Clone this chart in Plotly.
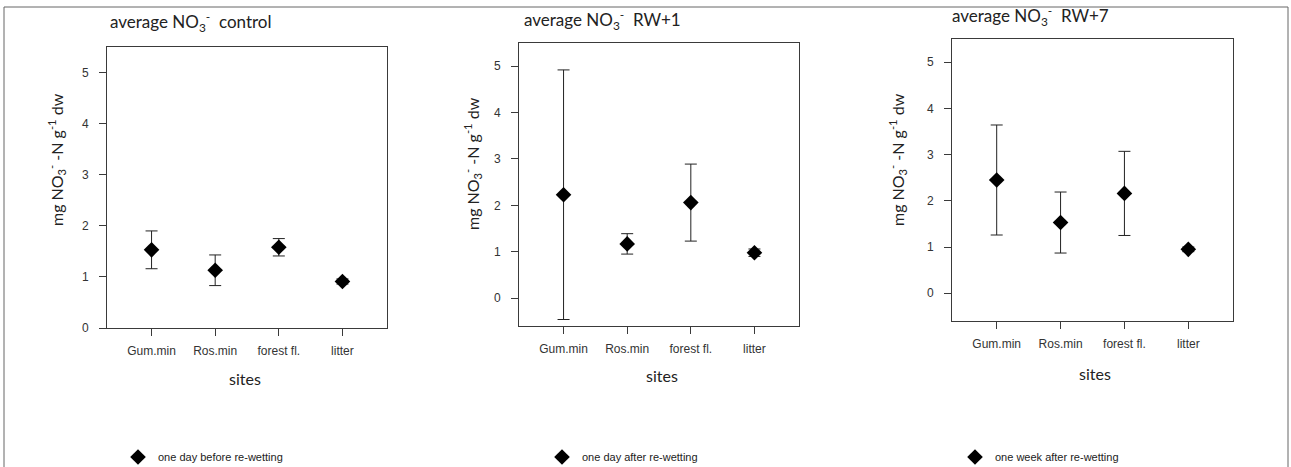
import plotly.graph_objects as go

W, H = 1291, 467

sites = ["Gum.min", "Ros.min", "forest fl.", "litter"]
panel_titles = ["average NO<sub>3</sub><sup>-</sup>  control",
                "average NO<sub>3</sub><sup>-</sup>  RW+1",
                "average NO<sub>3</sub><sup>-</sup>  RW+7"]
legend_names = ["one day before re-wetting", "one day after re-wetting", "one week after re-wetting"]

control_mean = [1.53, 1.13, 1.58, 0.91]
control_err = [0.37, 0.30, 0.17, 0.05]
rw1_mean = [2.23, 1.17, 2.06, 0.98]
rw1_err = [2.69, 0.22, 0.83, 0.08]
rw7_mean = [2.45, 1.53, 2.16, 0.95]
rw7_err = [1.19, 0.66, 0.91, 0.05]

y_ticks = [0, 1, 2, 3, 4, 5]

means = [control_mean, rw1_mean, rw7_mean]
errs = [control_err, rw1_err, rw7_err]


def px(x):
    return x / W


def py(y):
    return 1 - y / H


# layout geometry in pixels: (left, right, top, bottom)
boxes = [(107, 387, 47, 328), (519, 799, 43, 326), (952, 1233, 39, 321)]
y_ranges = [[0, 5.5], [-0.6, 5.5], [-0.6, 5.5]]
x_range = [-0.7, 3.7]
title_pos = [(108, 22), (522, 20), (950, 16)]
ytitle_pos = [(57, 160), (472, 164), (898, 160)]
sites_pos = [(245, 378), (662, 375), (1095, 373)]
legend_pos = [(118, 457), (542, 457), (955, 457)]

fig = go.Figure()
axis_color = "#3a3a3a"
tick_font = dict(family="Liberation Sans, Arial, sans-serif", size=12, color="#333")
text_font = dict(family="Lato, Open Sans, sans-serif", size=17, color="#222")
label_font = dict(family="Lato, Open Sans, sans-serif", size=16, color="#222")

annotations = []
for i in range(3):
    sfx = "" if i == 0 else str(i + 1)
    l, r, t, b = boxes[i]
    fig.add_trace(go.Scatter(
        x=sites, y=means[i], mode="markers",
        name=legend_names[i],
        xaxis="x" + sfx, yaxis="y" + sfx,
        legend="legend" + sfx,
        marker=dict(symbol="diamond", size=12, color="black"),
        error_y=dict(type="data", array=errs[i], visible=True,
                     color="#222", thickness=1, width=6),
        showlegend=True,
    ))
    fig.layout["xaxis" + sfx] = dict(
        domain=[px(l), px(r)], anchor="y" + sfx, type="category",
        range=x_range, showline=True, mirror=True, linecolor=axis_color, linewidth=1,
        ticks="outside", ticklen=7, tickcolor=axis_color, tickfont=tick_font,
        ticklabelstandoff=5, showgrid=False, zeroline=False, fixedrange=True,
    )
    fig.layout["yaxis" + sfx] = dict(
        domain=[py(b), py(t)], anchor="x" + sfx,
        range=y_ranges[i], tickvals=y_ticks, showline=True, mirror=True,
        linecolor=axis_color, linewidth=1, ticks="outside", ticklen=7,
        tickcolor=axis_color, tickfont=tick_font, ticklabelstandoff=8,
        showgrid=False, zeroline=False, fixedrange=True,
    )
    fig.layout["legend" + sfx] = dict(
        x=px(legend_pos[i][0]), y=py(legend_pos[i][1]), xanchor="left", yanchor="middle",
        orientation="h", bgcolor="rgba(0,0,0,0)",
        font=dict(family="Liberation Sans, Arial, sans-serif", size=11, color="#222"),
    )
    annotations.append(dict(
        text=panel_titles[i], x=px(title_pos[i][0]), y=py(title_pos[i][1]),
        xref="paper", yref="paper", xanchor="left", yanchor="middle",
        showarrow=False, font=text_font,
    ))
    annotations.append(dict(
        text="mg NO<sub>3</sub><sup>-</sup> -N g<sup>-1</sup> dw",
        x=px(ytitle_pos[i][0]), y=py(ytitle_pos[i][1]),
        xref="paper", yref="paper", xanchor="center", yanchor="middle",
        textangle=-90, showarrow=False, font=label_font,
    ))
    annotations.append(dict(
        text="sites", x=px(sites_pos[i][0]), y=py(sites_pos[i][1]),
        xref="paper", yref="paper", xanchor="center", yanchor="middle",
        showarrow=False, font=label_font,
    ))

fig.update_layout(
    width=W, height=H,
    margin=dict(l=0, r=0, t=0, b=0, autoexpand=False),
    paper_bgcolor="white", plot_bgcolor="white",
    annotations=annotations,
    shapes=[dict(type="rect", xref="paper", yref="paper",
                 x0=px(4), x1=px(1288), y0=-0.02, y1=py(7),
                 line=dict(color="#666", width=1))],
)

post = (
    "var s='margin:0;padding:0;overflow:hidden;width:1291px;height:467px;';"
    "document.documentElement.style.cssText=s;"
    "document.body.style.cssText=s;"
    "var gd=document.getElementById('{plot_id}');"
    "if(gd&&gd.parentElement){gd.parentElement.style.cssText=s;}"
)

fig.write_html("out.html", config={"displayModeBar": False}, post_script=post)
